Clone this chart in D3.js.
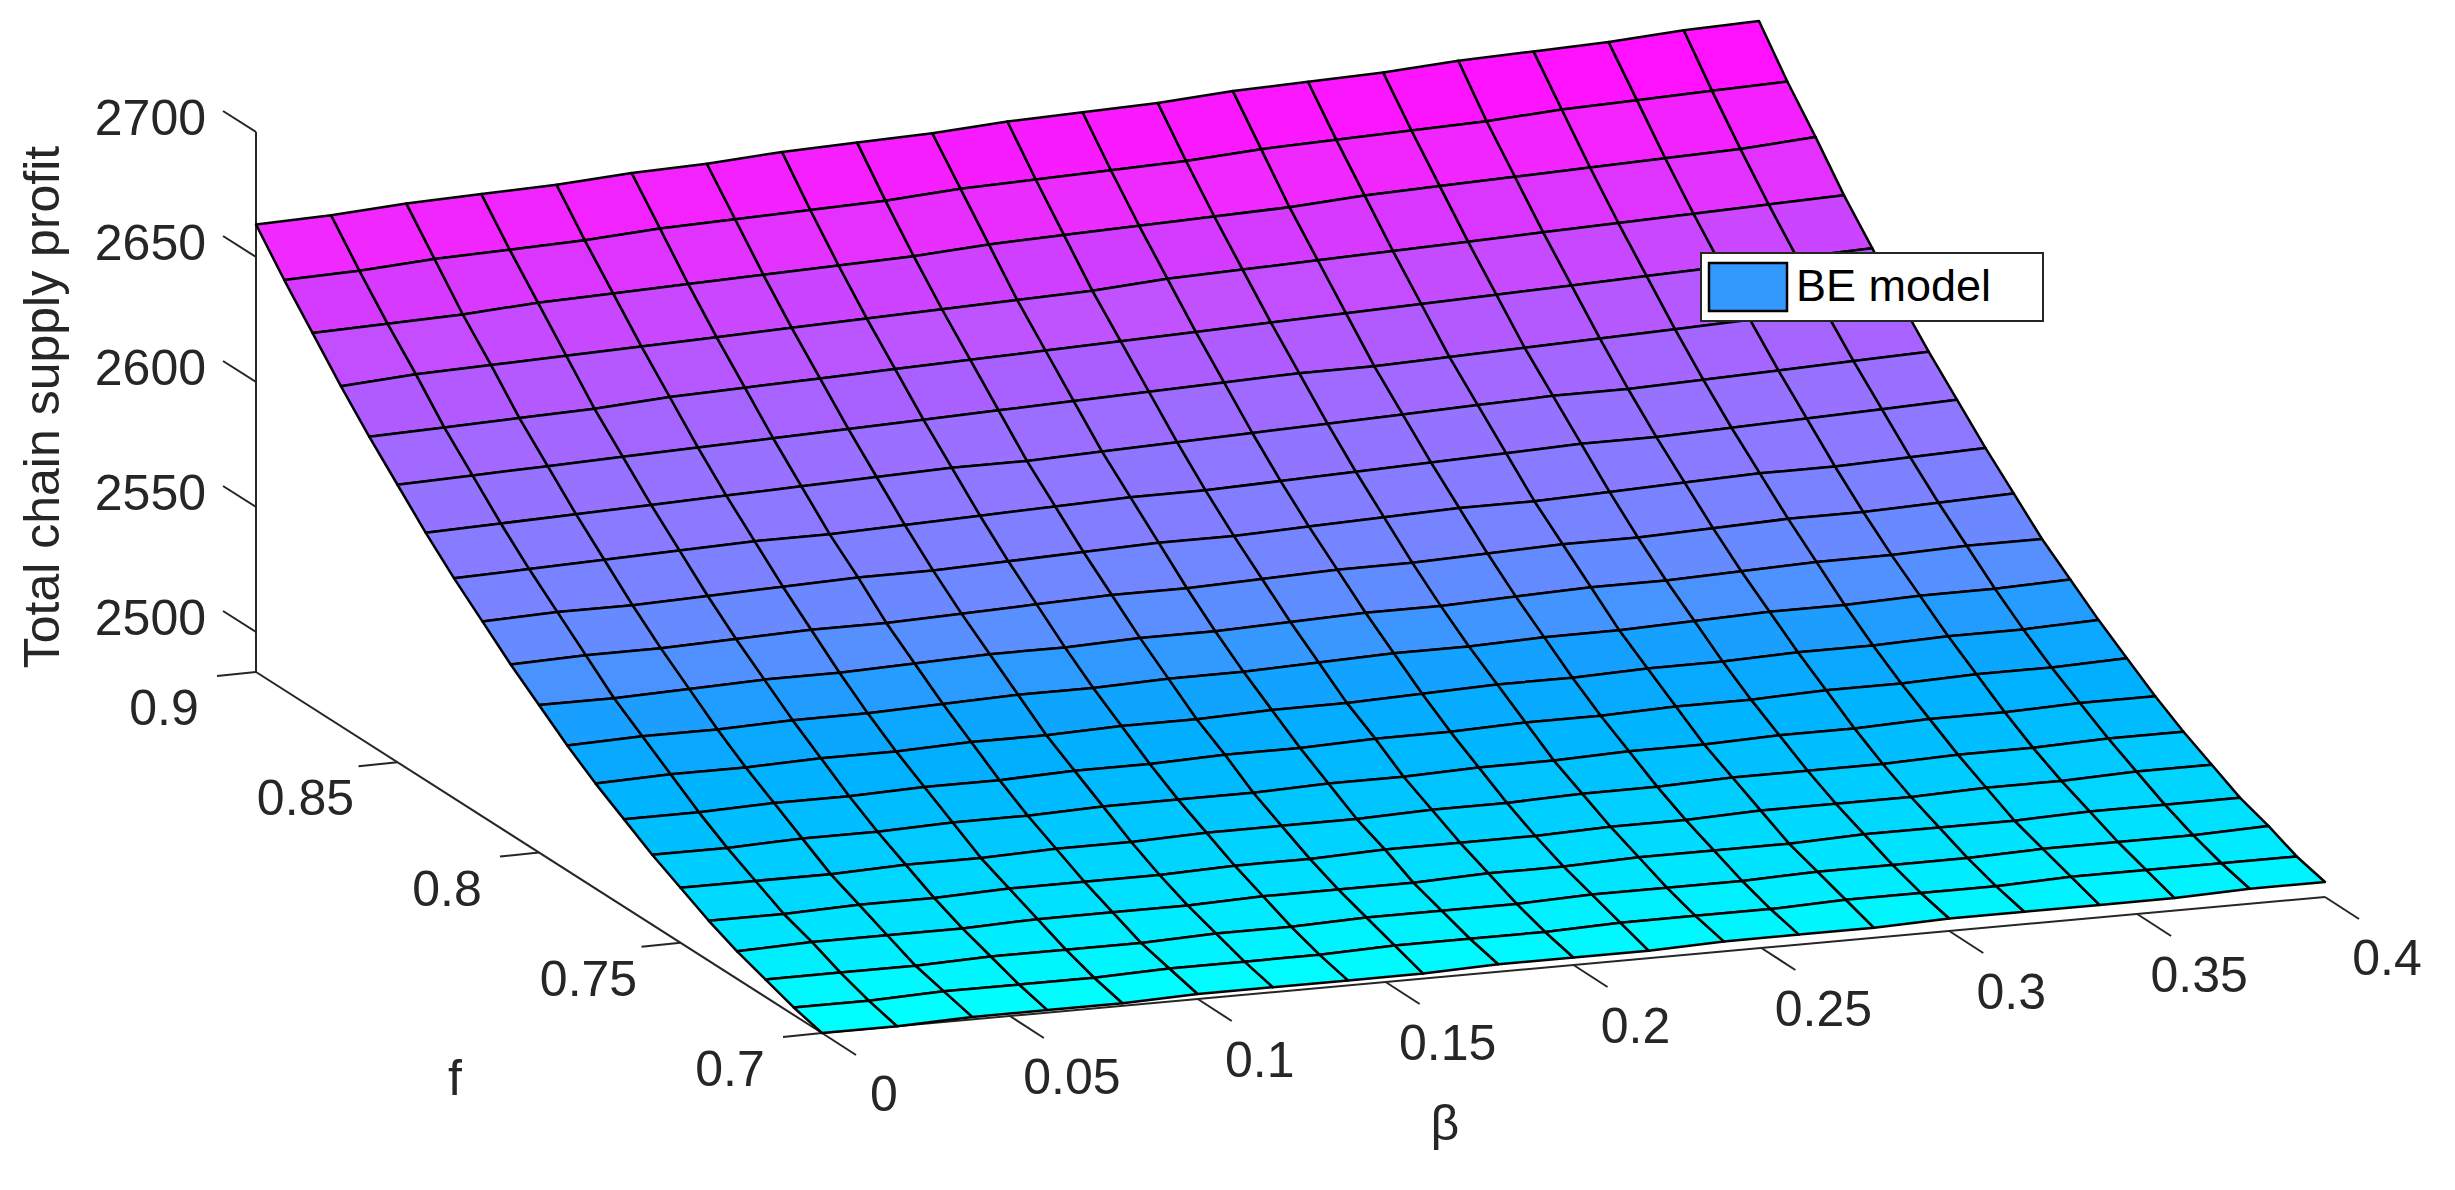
<!DOCTYPE html>
<html>
<head>
<meta charset="utf-8">
<script src="https://cdn.jsdelivr.net/npm/d3@7"></script>
<style>
  body { margin: 0; background: #fff; }
  text { font-family: "Liberation Sans", Arial, sans-serif; fill: #262626; }
</style>
</head>
<body>
<div id="graph"></div>
<script>
// grid values
const betaValues = d3.range(21).map(i => +(i * 0.02).toFixed(2));
const fValues = d3.range(21).map(i => +(0.7 + i * 0.01).toFixed(2));

// rows: f = 0.70 ... 0.90, columns: beta = 0 ... 0.40
const profit = [
  [2484,2484,2485,2485,2485,2486,2486,2486,2486,2487,2487,2487,2488,2488,2488,2489,2489,2489,2489,2490,2490],
  [2487,2487,2488,2488,2488,2489,2489,2489,2490,2490,2490,2491,2491,2491,2492,2492,2492,2493,2493,2493,2493],
  [2491,2491,2491,2492,2492,2492,2493,2493,2494,2494,2494,2495,2495,2495,2496,2496,2496,2497,2497,2497,2498],
  [2495,2496,2496,2496,2497,2497,2497,2498,2498,2498,2499,2499,2500,2500,2500,2501,2501,2501,2502,2502,2502],
  [2500,2500,2501,2501,2502,2502,2502,2503,2503,2504,2504,2504,2505,2505,2506,2506,2506,2507,2507,2508,2508],
  [2506,2506,2506,2507,2507,2508,2508,2509,2509,2509,2510,2510,2511,2511,2512,2512,2512,2513,2513,2514,2514],
  [2512,2512,2513,2513,2514,2514,2515,2515,2515,2516,2516,2517,2517,2518,2518,2519,2519,2520,2520,2521,2521],
  [2519,2519,2520,2520,2521,2521,2522,2522,2523,2523,2524,2524,2525,2525,2526,2526,2527,2527,2528,2528,2529],
  [2526,2527,2527,2528,2528,2529,2529,2530,2530,2531,2531,2532,2533,2533,2534,2534,2535,2535,2536,2536,2537],
  [2534,2535,2535,2536,2536,2537,2538,2538,2539,2539,2540,2541,2541,2542,2542,2543,2544,2544,2545,2545,2546],
  [2543,2543,2544,2545,2545,2546,2547,2547,2548,2548,2549,2550,2550,2551,2552,2552,2553,2554,2554,2555,2555],
  [2552,2553,2553,2554,2555,2555,2556,2557,2558,2558,2559,2560,2560,2561,2562,2562,2563,2564,2564,2565,2566],
  [2562,2563,2563,2564,2565,2566,2566,2567,2568,2569,2569,2570,2571,2572,2572,2573,2574,2575,2575,2576,2577],
  [2572,2573,2574,2575,2576,2576,2577,2578,2579,2580,2580,2581,2582,2583,2584,2585,2585,2586,2587,2588,2589],
  [2583,2584,2585,2586,2587,2588,2589,2590,2590,2591,2592,2593,2594,2595,2596,2597,2597,2598,2599,2600,2601],
  [2595,2596,2597,2598,2599,2600,2601,2602,2603,2604,2605,2606,2607,2607,2608,2609,2610,2611,2612,2613,2614],
  [2607,2608,2609,2610,2612,2613,2614,2615,2616,2617,2618,2619,2620,2621,2622,2623,2624,2625,2626,2627,2628],
  [2620,2622,2623,2624,2625,2626,2627,2628,2629,2630,2631,2633,2634,2635,2636,2637,2638,2639,2640,2641,2642],
  [2634,2635,2636,2638,2639,2640,2641,2642,2643,2645,2646,2647,2648,2649,2651,2652,2653,2654,2655,2656,2658],
  [2648,2649,2651,2652,2653,2655,2656,2657,2658,2660,2661,2662,2663,2665,2666,2667,2668,2670,2671,2672,2673],
  [2663,2664,2666,2667,2668,2670,2671,2673,2674,2675,2677,2678,2679,2681,2682,2683,2685,2686,2687,2689,2690]
];

const zTicks = [2500, 2550, 2600, 2650, 2700];
const fTicks = [0.7, 0.75, 0.8, 0.85, 0.9];
const betaTicks = [0, 0.05, 0.1, 0.15, 0.2, 0.25, 0.3, 0.35, 0.4];

const width = 2455, height = 1190;
const origin = { x: 822, y: 1033 };

// oblique projection, each data axis gets its own screen vector
const bX = d3.scaleLinear().domain([0, 0.4]).range([0, 1503]);
const bY = d3.scaleLinear().domain([0, 0.4]).range([0, -136]);
const fX = d3.scaleLinear().domain([0.7, 0.9]).range([0, -566]);
const fY = d3.scaleLinear().domain([0.7, 0.9]).range([0, -361]);
const zY = d3.scaleLinear().domain([2484, 2700]).range([0, -540]);

const proj = (b, f, z) => [origin.x + bX(b) + fX(f), origin.y + bY(b) + fY(f) + zY(z)];

const color = d3.scaleLinear()
  .domain([2486, 2500, 2515, 2525, 2538, 2550, 2565, 2580, 2595, 2610, 2625, 2640, 2655, 2680])
  .range(["#00ffff", "#00e0ff", "#00c0ff", "#00b0ff", "#15a0ff", "#5590ff", "#7585ff", "#8a7aff",
          "#9a70ff", "#aa5fff", "#c052ff", "#d23cff", "#ee2aff", "#ff10ff"])
  .clamp(true);

const svg = d3.select("#graph").append("svg")
  .attr("width", width).attr("height", height);

const axisColor = "#262626";

// axes lines
const corner = proj(0, 0.9, 2484);
svg.append("line").attr("x1", origin.x).attr("y1", origin.y)
  .attr("x2", corner[0]).attr("y2", corner[1]).attr("stroke", axisColor).attr("stroke-width", 2);
const rightCorner = proj(0.4, 0.7, 2484);
svg.append("line").attr("x1", origin.x).attr("y1", origin.y)
  .attr("x2", rightCorner[0]).attr("y2", rightCorner[1]).attr("stroke", axisColor).attr("stroke-width", 2);
const zTop = proj(0, 0.9, 2700);
svg.append("line").attr("x1", corner[0]).attr("y1", corner[1])
  .attr("x2", zTop[0]).attr("y2", zTop[1]).attr("stroke", axisColor).attr("stroke-width", 2);

// z ticks
zTicks.forEach(v => {
  const p = proj(0, 0.9, v);
  svg.append("line").attr("x1", p[0]).attr("y1", p[1]).attr("x2", p[0] - 33).attr("y2", p[1] - 21)
    .attr("stroke", axisColor).attr("stroke-width", 2);
  svg.append("text").attr("x", 206).attr("y", p[1] - 10)
    .attr("text-anchor", "end").attr("dominant-baseline", "middle")
    .style("font-size", "50px").text(v);
});

// f ticks
fTicks.forEach(v => {
  const p = proj(0, v, 2484);
  svg.append("line").attr("x1", p[0]).attr("y1", p[1]).attr("x2", p[0] - 39).attr("y2", p[1] + 4)
    .attr("stroke", axisColor).attr("stroke-width", 2);
  svg.append("text").attr("x", p[0] - 92).attr("y", p[1] + 40)
    .attr("text-anchor", "middle").attr("dominant-baseline", "middle")
    .style("font-size", "50px").text(v);
});

// beta ticks
betaTicks.forEach(v => {
  const p = proj(v, 0.7, 2484);
  svg.append("line").attr("x1", p[0]).attr("y1", p[1]).attr("x2", p[0] + 34).attr("y2", p[1] + 22)
    .attr("stroke", axisColor).attr("stroke-width", 2);
  svg.append("text").attr("x", p[0] + 62).attr("y", p[1] + 65)
    .attr("text-anchor", "middle").attr("dominant-baseline", "middle")
    .style("font-size", "50px").text(v);
});

// axis titles
svg.append("text").attr("transform", "translate(46,407) rotate(-90)")
  .attr("text-anchor", "middle").attr("dominant-baseline", "middle")
  .style("font-size", "50px").text("Total chain supply profit");
svg.append("text").attr("x", 455).attr("y", 1082)
  .attr("text-anchor", "middle").attr("dominant-baseline", "middle")
  .style("font-size", "50px").text("f");
svg.append("text").attr("x", 1445).attr("y", 1127)
  .attr("text-anchor", "middle").attr("dominant-baseline", "middle")
  .style("font-size", "50px").text("β");

// surface patches, back to front
const cells = [];
for (let i = fValues.length - 2; i >= 0; i--) {
  for (let j = 0; j < betaValues.length - 1; j++) {
    const pts = [
      proj(betaValues[j], fValues[i], profit[i][j]),
      proj(betaValues[j + 1], fValues[i], profit[i][j + 1]),
      proj(betaValues[j + 1], fValues[i + 1], profit[i + 1][j + 1]),
      proj(betaValues[j], fValues[i + 1], profit[i + 1][j])
    ];
    const zMean = (profit[i][j] + profit[i][j + 1] + profit[i + 1][j + 1] + profit[i + 1][j]) / 4;
    cells.push({ pts, zMean });
  }
}

svg.append("g").selectAll("polygon")
  .data(cells)
  .join("polygon")
  .attr("points", d => d.pts.map(p => p.join(",")).join(" "))
  .attr("fill", d => color(d.zMean))
  .attr("stroke", "#000")
  .attr("stroke-width", 2.5)
  .attr("stroke-linejoin", "round");

// legend
const legend = svg.append("g").attr("transform", "translate(1701,253)");
legend.append("rect").attr("width", 342).attr("height", 68)
  .attr("fill", "#fff").attr("stroke", axisColor).attr("stroke-width", 2);
legend.append("rect").attr("x", 8).attr("y", 10).attr("width", 78).attr("height", 48)
  .attr("fill", "#3399ff").attr("stroke", "#000").attr("stroke-width", 2.5);
legend.append("text").attr("x", 95).attr("y", 36)
  .attr("dominant-baseline", "middle").style("font-size", "45px").style("fill", "#000")
  .text("BE model");
</script>
</body>
</html>
